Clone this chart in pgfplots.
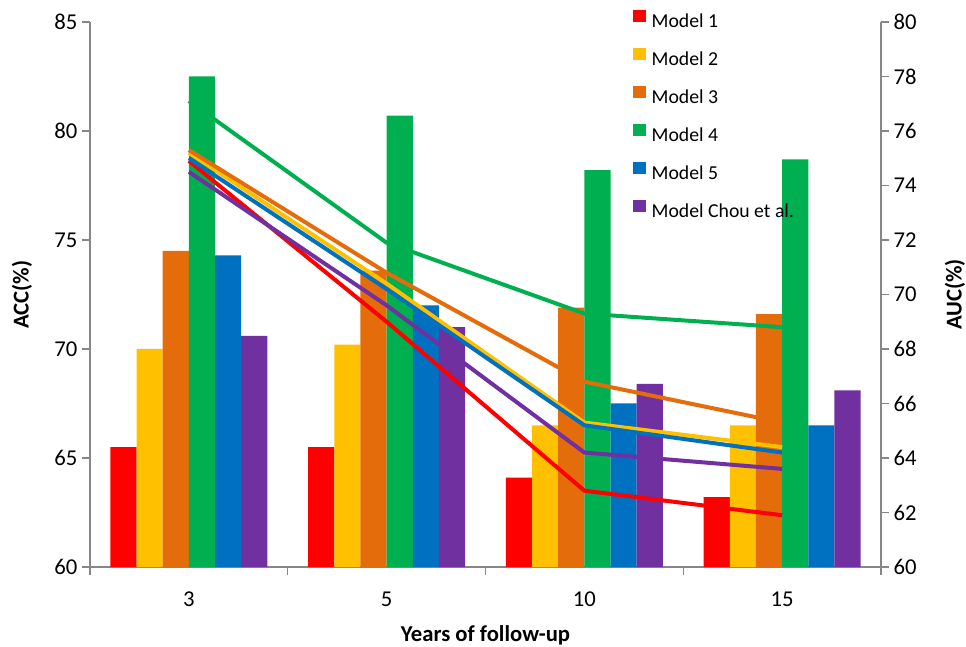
\documentclass[border=0pt]{standalone}
\usepackage{pgfplots}
\pgfplotsset{compat=1.18}
\usepackage{fontspec}
\setmainfont{Carlito}
\definecolor{cRed}{HTML}{FF0000}
\definecolor{cYel}{HTML}{FFC000}
\definecolor{cOra}{HTML}{E46C0A}
\definecolor{cGre}{HTML}{00B050}
\definecolor{cBlu}{HTML}{0070C0}
\definecolor{cPur}{HTML}{7030A0}
\definecolor{axgray}{HTML}{878787}
\pgfplotsset{sqlegend/.style={legend image code/.code={\fill[##1] (0pt,0.1pt) rectangle (9.3pt,9.4pt);}}}
\newcommand{\bw}{0.1322}
\begin{document}
\begin{tikzpicture}
\path[use as bounding box] (0,0) rectangle (724.5pt,484.5pt);
\begin{axis}[
  at={(67.5pt,59.25pt)}, anchor=south west, scale only axis,
  width=593.25pt, height=408.75pt,
  xmin=-0.5, xmax=3.5, ymin=60, ymax=85,
  axis y line*=left, axis x line*=bottom,
  axis line style={draw=axgray, line width=1.1pt},
  xtick={0,1,2,3}, xticklabels={3,5,10,15},
  xtick style={draw=none},
  xticklabel style={yshift=-9pt},
  extra x ticks={-0.5,0.5,1.5,2.5,3.5}, extra x tick labels={},
  extra x tick style={xtick style={draw=axgray, line width=1.1pt}},
  ytick={60,65,...,85},
  tick align=outside, major tick length=6pt,
  ytick style={draw=axgray, line width=1.1pt},
  tick label style={font=\fontsize{17}{20}\selectfont},
  /pgf/number format/assume math mode=true,
  xlabel={Years of follow-up}, ylabel={ACC(\%)},
  label style={font=\bfseries\fontsize{17}{20}\selectfont},
  xlabel style={at={(axis description cs:0.5,-0.125)}, anchor=center},
  ylabel style={at={(axis description cs:-0.086,0.5)}, anchor=center},
  legend style={at={(axis description cs:0.6865,1.0226)}, anchor=north west,
    draw=none, fill=none, inner sep=0pt, row sep=12.35pt,
    font=\fontsize{14.8}{17}\selectfont,
    nodes={inner sep=0pt, text height=10.5pt, text depth=3pt},
    column sep=4.5pt},
  legend cell align=left,
]
\addplot[ybar, bar width=\bw, bar shift=-0.3305, fill=cRed, draw=none, sqlegend]
  coordinates {(0,65.5) (1,65.5) (2,64.1) (3,63.2)};
\addplot[ybar, bar width=\bw, bar shift=-0.1983, fill=cYel, draw=none, sqlegend]
  coordinates {(0,70.0) (1,70.2) (2,66.5) (3,66.5)};
\addplot[ybar, bar width=\bw, bar shift=-0.0661, fill=cOra, draw=none, sqlegend]
  coordinates {(0,74.5) (1,73.6) (2,71.9) (3,71.6)};
\addplot[ybar, bar width=\bw, bar shift=0.0661, fill=cGre, draw=none, sqlegend]
  coordinates {(0,82.5) (1,80.7) (2,78.2) (3,78.7)};
\addplot[ybar, bar width=\bw, bar shift=0.1983, fill=cBlu, draw=none, sqlegend]
  coordinates {(0,74.3) (1,72.0) (2,67.5) (3,66.5)};
\addplot[ybar, bar width=\bw, bar shift=0.3305, fill=cPur, draw=none, sqlegend]
  coordinates {(0,70.6) (1,71.0) (2,68.4) (3,68.1)};
\legend{Model 1, Model 2, Model 3, Model 4, Model 5, Model Chou et al.}
\end{axis}
\begin{axis}[
  at={(67.5pt,59.25pt)}, anchor=south west, scale only axis,
  width=593.25pt, height=408.75pt,
  xmin=-0.5, xmax=3.5, ymin=60, ymax=80,
  axis y line*=right, axis x line=none,
  axis line style={draw=axgray, line width=1.1pt},
  ytick={60,62,...,80},
  tick align=outside, major tick length=6pt,
  ytick style={draw=axgray, line width=1.1pt},
  tick label style={font=\fontsize{17}{20}\selectfont},
  /pgf/number format/assume math mode=true,
  ylabel={AUC(\%)},
  label style={font=\bfseries\fontsize{17}{20}\selectfont},
  ylabel style={at={(axis description cs:1.0936,0.5)}, anchor=center},
]
\addplot[cRed, line width=3pt] coordinates {(0,74.9) (1,69.0) (2,62.8) (3,61.9)};
\addplot[cYel, line width=3pt] coordinates {(0,75.2) (1,70.4) (2,65.3) (3,64.4)};
\addplot[cOra, line width=3pt] coordinates {(0,75.3) (1,70.8) (2,66.8) (3,65.3)};
\addplot[cGre, line width=3pt] coordinates {(0,77.1) (1,71.9) (2,69.3) (3,68.8)};
\addplot[cBlu, line width=3pt] coordinates {(0,75.0) (1,70.2) (2,65.2) (3,64.2)};
\addplot[cPur, line width=3pt] coordinates {(0,74.5) (1,69.6) (2,64.2) (3,63.6)};
\end{axis}
\end{tikzpicture}
\end{document}
